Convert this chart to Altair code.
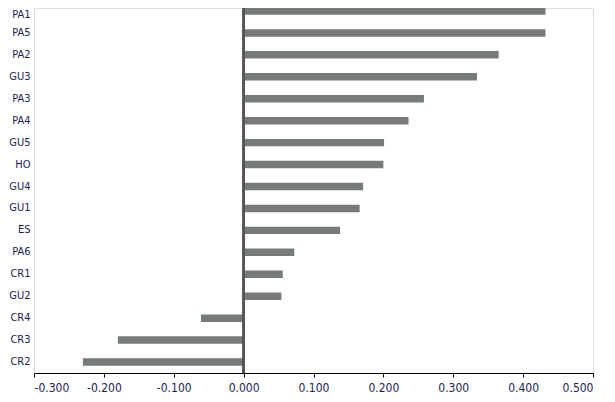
import altair as alt
import pandas as pd

categories = ["PA1", "PA5", "PA2", "GU3", "PA3", "PA4", "GU5", "HO", "GU4",
              "GU1", "ES", "PA6", "CR1", "GU2", "CR4", "CR3", "CR2"]
values = [0.432, 0.432, 0.365, 0.334, 0.258, 0.236, 0.201, 0.200, 0.171,
          0.166, 0.138, 0.0725, 0.056, 0.054, -0.061, -0.180, -0.230]
tick_values = [-0.3, -0.2, -0.1, 0.0, 0.1, 0.2, 0.3, 0.4, 0.5]

df = pd.DataFrame({"cat": categories, "val": values})

font = "DejaVu Sans Condensed, Liberation Sans, sans-serif"
txt = "#1d1d4f"

bars = alt.Chart(df).mark_bar(color="#777a7a").encode(
    x=alt.X("val:Q",
            scale=alt.Scale(domain=[-0.3, 0.5], nice=False, zero=False),
            axis=alt.Axis(values=tick_values, title=None, grid=False,
                          labelExpr="datum.value < 0 ? '-' + format(-datum.value, '.3f') : format(datum.value, '.3f')",
                          domainColor="#000000", domainWidth=1, tickColor="#000000",
                          tickSize=4, tickWidth=1, labelFont=font, labelFontSize=12,
                          labelColor=txt, labelPadding=5)),
    y=alt.Y("cat:N", sort=categories,
            scale=alt.Scale(range=[-8, 365], paddingInner=0.66, paddingOuter=0.33),
            axis=alt.Axis(title=None, domain=False, ticks=False, grid=False,
                          labelFont=font, labelFontSize=11, labelColor=txt,
                          labelPadding=4,
                          labelOffset={"condition": {"test": "datum.value == 'PA1'", "value": 4}, "value": 0})),
)

zero = alt.Chart(df).mark_rule(color="#555555", strokeWidth=1.5).encode(
    x=alt.datum(0)
)

chart = alt.layer(bars, zero).properties(
    width=559, height=365,
    autosize=alt.AutoSizeParams(type="none"),
    padding={"left": 26, "top": 0, "right": 14, "bottom": 21},
).configure_view(stroke=None).configure(background="#ffffff")

chart.save("out.html", embed_options={"renderer": "svg", "actions": False})
